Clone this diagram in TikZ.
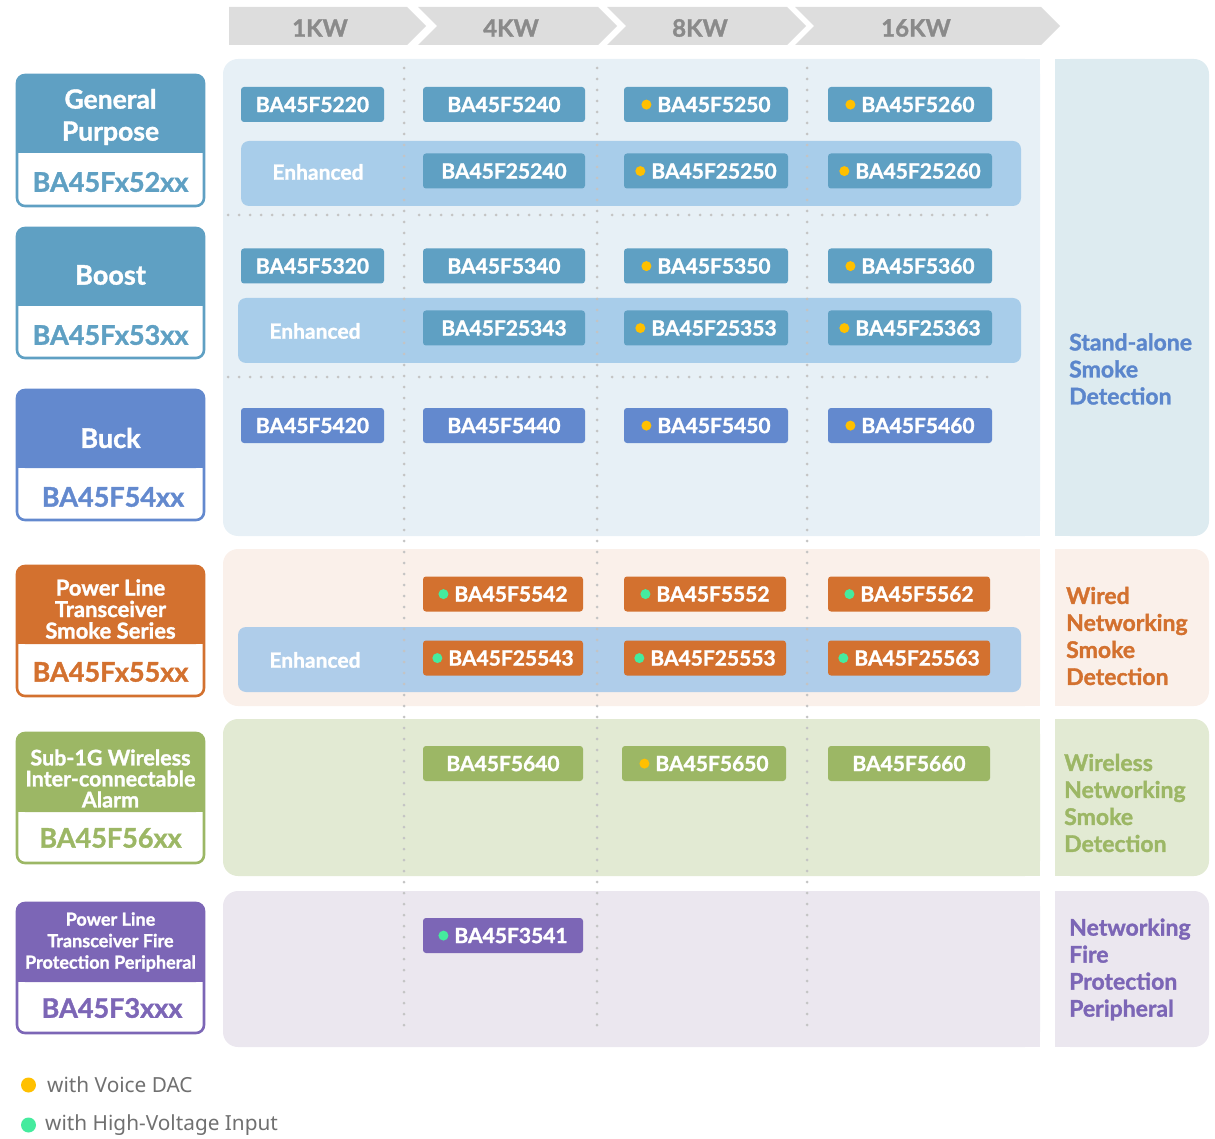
\documentclass[tikz,border=0pt]{standalone}
\usepackage{fontspec}
\setmainfont{Lato}[BoldFeatures={FakeBold=1.3}]
\newfontfamily\legendfont{Noto Sans}
\definecolor{gpblue}{HTML}{5FA0C3}
\definecolor{bandblue}{HTML}{A8CDEA}
\definecolor{bandblueb}{HTML}{AFCDEA}
\definecolor{panelblue}{HTML}{E7F0F6}
\definecolor{labelblue}{HTML}{DDEBF0}
\definecolor{buckblue}{HTML}{6389CE}
\definecolor{sablue}{HTML}{5B86CC}
\definecolor{orng}{HTML}{D3712F}
\definecolor{peach}{HTML}{FAF0EA}
\definecolor{grn}{HTML}{9CB765}
\definecolor{grnpanel}{HTML}{E2EAD3}
\definecolor{purp}{HTML}{7C66B6}
\definecolor{lavender}{HTML}{EBE7EF}
\definecolor{dotY}{HTML}{FFC000}
\definecolor{dotG}{HTML}{45EB9E}
\definecolor{hdr}{HTML}{DDDDDD}
\definecolor{hdrtxt}{HTML}{8A8A8A}
\definecolor{dotgrey}{HTML}{C4C4C4}
\definecolor{legtxt}{HTML}{707070}
\newcommand\dY{\tikz[baseline=-7.5pt]\fill[dotY] (0,0) circle (5pt);\hspace{6pt}}
\newcommand\dG{\tikz[baseline=-7.5pt]\fill[dotG] (0,0) circle (5pt);\hspace{6pt}}
\newcommand\catbox[4]{%
  \fill[#1, rounded corners=8pt] (17,#2) rectangle (204,#3);
  \fill[#1] (17,#3-20) rectangle (204,#3);
  \draw[#1, line width=2.6pt, rounded corners=8pt] (17,#2) rectangle (204,#4);}
\begin{document}
\begin{tikzpicture}[x=1pt,y=-1pt,
  chip/.style={rounded corners=3pt, minimum height=35pt, inner sep=0pt, text=white, font=\fontsize{21}{24}\selectfont\bfseries},
  enh/.style={text=white, inner sep=0pt, font=\fontsize{21}{24}\selectfont\bfseries},
  hdrtext/.style={text=hdrtxt, inner sep=0pt, font=\fontsize{24}{26}\selectfont\bfseries},
  cattitle/.style={text=white, align=center, inner sep=0pt},
  catcode/.style={inner sep=0pt, font=\fontsize{27}{30}\selectfont\bfseries},
  sidelab/.style={anchor=west, align=left, inner sep=0pt, font=\fontsize{23}{27}\selectfont\bfseries},
  dotline/.style={dotgrey, line width=3pt, line cap=round, dash pattern=on 0pt off 11pt},
  legend/.style={anchor=west, inner sep=0pt, text=legtxt, font=\legendfont\fontsize{20.8}{24}\selectfont},
  legdot/.style={circle, inner sep=0pt, minimum size=15pt},
]
\useasboundingbox (0,0) rectangle (1215,1139);

% header chevrons
\fill[hdr] (229,7) -- (407,7) -- (426,26) -- (407,45) -- (229,45) -- cycle;
\fill[hdr] (418,7) -- (598,7) -- (617,26) -- (598,45) -- (418,45) -- (437,26) -- cycle;
\fill[hdr] (607,7) -- (787,7) -- (806,26) -- (787,45) -- (607,45) -- (626,26) -- cycle;
\fill[hdr] (795,7) -- (1041,7) -- (1060,26) -- (1041,45) -- (795,45) -- (814,26) -- cycle;
\node[hdrtext] (h1) at (320,28) {1KW};
\node[hdrtext] (h2) at (511,28) {4KW};
\node[hdrtext] (h3) at (700,28) {8KW};
\node[hdrtext] (h4) at (916,28) {16KW};

% panels
\fill[panelblue, rounded corners=15pt] (223,59) rectangle (1040,536);
\fill[panelblue] (1000,59) rectangle (1040,536);
\fill[labelblue, rounded corners=15pt] (1055,59) rectangle (1209,536);
\fill[labelblue] (1055,59) rectangle (1090,536);

\fill[peach, rounded corners=15pt] (223,549) rectangle (1040,706);
\fill[peach] (1000,549) rectangle (1040,706);
\fill[peach, rounded corners=15pt] (1055,549) rectangle (1209,706);
\fill[peach] (1055,549) rectangle (1090,706);

\fill[grnpanel, rounded corners=15pt] (223,719) rectangle (1040,876);
\fill[grnpanel] (1000,719) rectangle (1040,876);
\fill[grnpanel, rounded corners=15pt] (1055,719) rectangle (1209,876);
\fill[grnpanel] (1055,719) rectangle (1090,876);

\fill[lavender, rounded corners=15pt] (223,891) rectangle (1040,1047);
\fill[lavender] (1000,891) rectangle (1040,1047);
\fill[lavender, rounded corners=15pt] (1055,891) rectangle (1209,1047);
\fill[lavender] (1055,891) rectangle (1090,1047);

% enhanced bands
\fill[bandblue, rounded corners=8pt] (241,141) rectangle (1021,206);
\fill[bandblue, rounded corners=8pt] (238,298) rectangle (1021,363);
\fill[bandblueb, rounded corners=8pt] (238,627) rectangle (1021,692);
\node[enh] (e1) at (318,172) {Enhanced};
\node[enh] (e2) at (315,331) {Enhanced};
\node[enh] (e3) at (315,660) {Enhanced};

% dotted grid
\foreach \x in {404,597,807} \draw[dotline] (\x,68) -- (\x,1036);
\foreach \y in {215,377} {
  \draw[dotline] (228,\y) -- (397,\y);
  \draw[dotline] (419,\y) -- (590,\y);
  \draw[dotline] (612,\y) -- (790,\y);
  \draw[dotline] (822,\y) -- (992,\y);
}

% row 1
\node[chip, fill=gpblue, minimum width=143pt] (r1a) at (312.5,104.5) {BA45F5220};
\node[chip, fill=gpblue, minimum width=162pt] (r1b) at (504,104.5) {BA45F5240};
\node[chip, fill=gpblue, minimum width=164pt] (r1c) at (706,104.5) {\dY BA45F5250};
\node[chip, fill=gpblue, minimum width=164pt] (r1d) at (910,104.5) {\dY BA45F5260};
% row 2
\node[chip, fill=gpblue, minimum width=162pt] (r2b) at (504,171) {BA45F25240};
\node[chip, fill=gpblue, minimum width=164pt] (r2c) at (706,171) {\dY BA45F25250};
\node[chip, fill=gpblue, minimum width=164pt] (r2d) at (910,171) {\dY BA45F25260};
% row 3
\node[chip, fill=gpblue, minimum width=143pt] (r3a) at (312.5,266) {BA45F5320};
\node[chip, fill=gpblue, minimum width=162pt] (r3b) at (504,266) {BA45F5340};
\node[chip, fill=gpblue, minimum width=164pt] (r3c) at (706,266) {\dY BA45F5350};
\node[chip, fill=gpblue, minimum width=164pt] (r3d) at (910,266) {\dY BA45F5360};
% row 4
\node[chip, fill=gpblue, minimum width=162pt] (r4b) at (504,328) {BA45F25343};
\node[chip, fill=gpblue, minimum width=164pt] (r4c) at (706,328) {\dY BA45F25353};
\node[chip, fill=gpblue, minimum width=164pt] (r4d) at (910,328) {\dY BA45F25363};
% row 5
\node[chip, fill=buckblue, minimum width=143pt] (r5a) at (312.5,425.5) {BA45F5420};
\node[chip, fill=buckblue, minimum width=162pt] (r5b) at (504,425.5) {BA45F5440};
\node[chip, fill=buckblue, minimum width=164pt] (r5c) at (706,425.5) {\dY BA45F5450};
\node[chip, fill=buckblue, minimum width=164pt] (r5d) at (910,425.5) {\dY BA45F5460};
% row 6
\node[chip, fill=orng, minimum width=160pt] (r6b) at (503,594) {\dG BA45F5542};
\node[chip, fill=orng, minimum width=162pt] (r6c) at (705,594) {\dG BA45F5552};
\node[chip, fill=orng, minimum width=162pt] (r6d) at (909,594) {\dG BA45F5562};
% row 7
\node[chip, fill=orng, minimum width=160pt] (r7b) at (503,658) {\dG BA45F25543};
\node[chip, fill=orng, minimum width=162pt] (r7c) at (705,658) {\dG BA45F25553};
\node[chip, fill=orng, minimum width=162pt] (r7d) at (909,658) {\dG BA45F25563};
% row 8
\node[chip, fill=grn, minimum width=160pt] (r8b) at (503,763.5) {BA45F5640};
\node[chip, fill=grn, minimum width=164pt] (r8c) at (704,763.5) {\dY BA45F5650};
\node[chip, fill=grn, minimum width=162pt] (r8d) at (909,763.5) {BA45F5660};
% row 9
\node[chip, fill=purp, minimum width=160pt] (r9b) at (503,935.5) {\dG BA45F3541};

% category boxes
\catbox{gpblue}{75}{153}{206}
\node[cattitle, font=\fontsize{26.5}{32}\selectfont\bfseries] (gpT) at (110.5,117) {General\\Purpose};
\node[catcode, text=gpblue] (gpC) at (110.5,182) {BA45Fx52xx};

\catbox{gpblue}{228}{306}{358}
\node[cattitle, font=\fontsize{27}{32}\selectfont\bfseries] (boT) at (110.5,275) {Boost};
\node[catcode, text=gpblue] (boC) at (110.5,335) {BA45Fx53xx};

\catbox{buckblue}{390}{468}{520}
\node[cattitle, font=\fontsize{27}{32}\selectfont\bfseries] (buT) at (110.5,438) {Buck};
\node[catcode, text=buckblue] (buC) at (113,497) {BA45F54xx};

\catbox{orng}{566}{644}{696}
\node[cattitle, font=\fontsize{22}{21.5}\selectfont\bfseries] (plT) at (110.5,609) {Power Line\\Transceiver\\Smoke Series};
\node[catcode, text=orng] (plC) at (110.5,672) {BA45Fx55xx};

\catbox{grn}{733}{812}{863}
\node[cattitle, font=\fontsize{21.5}{21}\selectfont\bfseries] (wlT) at (110.5,778.5) {Sub-1G Wireless\\Inter-connectable\\Alarm};
\node[catcode, text=grn] (wlC) at (110.5,838) {BA45F56xx};

\catbox{purp}{903}{982}{1033}
\node[cattitle, font=\fontsize{18}{21.5}\selectfont\bfseries] (ffT) at (110.5,942) {Power Line\\Transceiver Fire\\Protection Peripheral};
\node[catcode, text=purp] (ffC) at (112,1008) {BA45F3xxx};

% side labels
\node[sidelab, text=sablue] (s1) at (1069,369) {Stand-alone\\Smoke\\Detection};
\node[sidelab, text=orng] (s2) at (1066,636) {Wired\\Networking\\Smoke\\Detection};
\node[sidelab, text=grn] (s3) at (1064,803) {Wireless\\Networking\\Smoke\\Detection};
\node[sidelab, text=purp] (s4) at (1069,969.5) {Networking\\Fire\\Protection\\Peripheral};

% legend
\node[legdot, fill=dotY] (ld1) at (28.5,1085) {};
\node[legend] (lt1) at (47,1085) {with Voice DAC};
\node[legdot, fill=dotG] (ld2) at (28.5,1125) {};
\node[legend] (lt2) at (45,1125) {with High-Voltage Input};
\end{tikzpicture}
\end{document}
